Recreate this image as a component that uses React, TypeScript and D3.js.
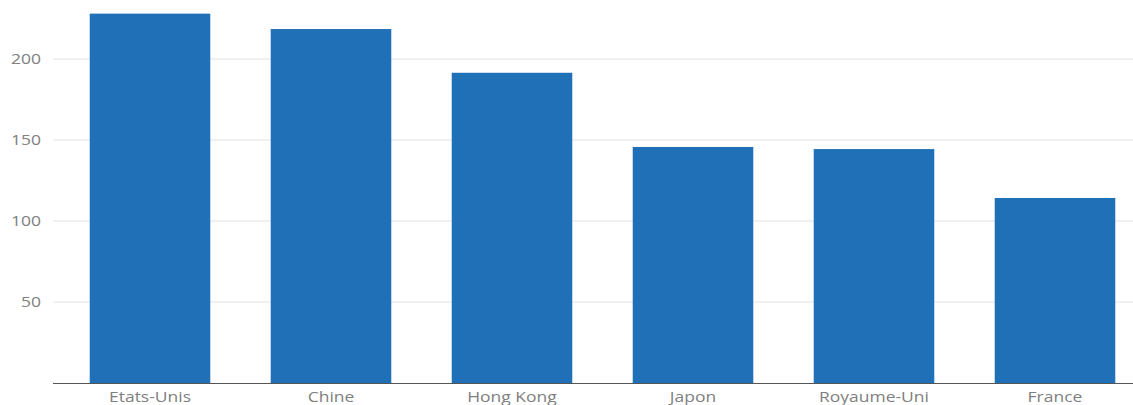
import React from "react";
import * as d3 from "d3";

const categories = ["Etats-Unis", "Chine", "Hong Kong", "Japon", "Royaume-Uni", "France"];
const values = [228, 218.5, 191.5, 145.7, 144.4, 114.2];
const yTicks = [50, 100, 150, 200];

const W = 1133;
const H = 405;
const SX = 1.25;

export default function App() {
  const x = d3
    .scaleBand<string>()
    .domain(categories)
    .range([59.5, 1145.5])
    .paddingInner(0.334)
    .paddingOuter(0.167);
  const y = d3.scaleLinear().domain([0, 200]).range([383, 59]);
  const textStyle = { fontFamily: "'Open Sans', sans-serif", fontSize: 14, fill: "#808080" };

  return (
    <svg
      width={W}
      height={H}
      style={{ position: "fixed", left: 0, top: 0, background: "#fff" }}
    >
      {yTicks.map((t) => (
        <g key={t}>
          <line x1={53} x2={W} y1={y(t)} y2={y(t)} stroke="#e2e2e2" strokeWidth={1} />
          <text
            transform={`translate(41,${y(t) + 5}) scale(${SX},1)`}
            textAnchor="end"
            style={textStyle}
          >
            {t}
          </text>
        </g>
      ))}
      {categories.map((c, i) => (
        <rect
          key={c}
          x={x(c)}
          y={y(values[i])}
          width={x.bandwidth()}
          height={y(0) - y(values[i])}
          fill="#2070b8"
        />
      ))}
      <line x1={53} x2={W} y1={y(0) + 0.5} y2={y(0) + 0.5} stroke="#555" strokeWidth={1} />
      {categories.map((c) => (
        <text
          key={c}
          transform={`translate(${(x(c) as number) + x.bandwidth() / 2},401.5) scale(${SX},1)`}
          textAnchor="middle"
          style={textStyle}
        >
          {c}
        </text>
      ))}
    </svg>
  );
}
